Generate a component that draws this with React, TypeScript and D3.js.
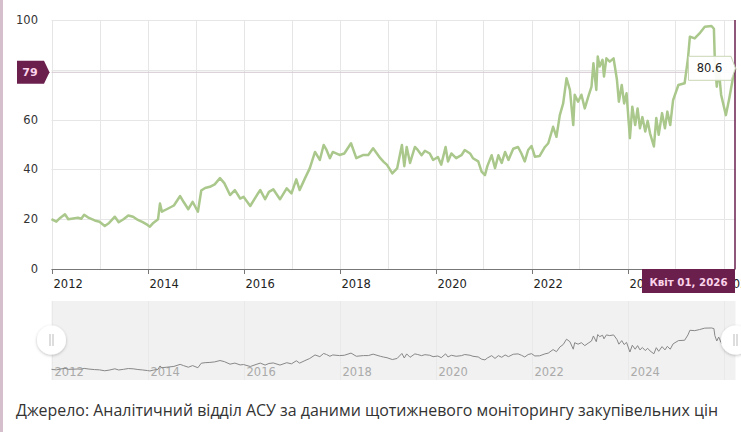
import { useEffect, useRef } from 'react'
import * as d3 from 'd3'

// decimal year of each sample
const dates = [
  2012.0, 2012.05, 2012.1, 2012.18, 2012.28, 2012.35, 2012.45, 2012.55, 2012.62, 2012.68, 2012.78, 2012.9,
  2013.0, 2013.11, 2013.2, 2013.32, 2013.4, 2013.5, 2013.6, 2013.7, 2013.8, 2013.9,
  2014.0, 2014.05, 2014.12, 2014.22, 2014.26, 2014.3, 2014.4, 2014.55, 2014.68, 2014.75, 2014.85, 2014.94,
  2015.05, 2015.12, 2015.2, 2015.3, 2015.4, 2015.51, 2015.6, 2015.72, 2015.82, 2015.93,
  2016.0, 2016.14, 2016.28, 2016.35, 2016.45, 2016.53, 2016.62, 2016.76, 2016.9,
  2017.0, 2017.1, 2017.17, 2017.28, 2017.38, 2017.49, 2017.59, 2017.67, 2017.73, 2017.8, 2017.86,
  2018.0, 2018.1, 2018.24, 2018.35, 2018.5, 2018.6, 2018.7, 2018.85, 2018.92, 2018.99,
  2019.1, 2019.2, 2019.3, 2019.35, 2019.4, 2019.47, 2019.57, 2019.63, 2019.71, 2019.78, 2019.88, 2019.95,
  2020.05, 2020.12, 2020.21, 2020.26, 2020.33, 2020.43, 2020.54, 2020.61, 2020.72, 2020.78, 2020.89, 2020.96,
  2021.03, 2021.08, 2021.17, 2021.24, 2021.31, 2021.38, 2021.45, 2021.52, 2021.62, 2021.72, 2021.79, 2021.86, 2021.93,
  2022.0, 2022.07, 2022.17, 2022.28, 2022.35, 2022.45, 2022.52, 2022.59, 2022.66, 2022.73, 2022.8, 2022.87, 2022.9, 2022.97,
  2023.04, 2023.11, 2023.18, 2023.25, 2023.29, 2023.35, 2023.38, 2023.42, 2023.48, 2023.51, 2023.56, 2023.63, 2023.71, 2023.78, 2023.82, 2023.88, 2023.93, 2023.98,
  2024.05, 2024.1, 2024.16, 2024.21, 2024.26, 2024.31, 2024.37, 2024.42, 2024.47, 2024.55, 2024.6, 2024.65, 2024.72, 2024.78, 2024.83, 2024.89, 2024.95,
  2025.06, 2025.19, 2025.26, 2025.3, 2025.4, 2025.5, 2025.61, 2025.75, 2025.8, 2025.82, 2025.86, 2025.9, 2025.95,
  2026.05, 2026.12, 2026.22, 2026.25,
]

const prices = [
  20, 19.5, 19, 20.5, 22, 20, 20.3, 20.6, 20.2, 21.8, 20.5, 19.5,
  19, 17.3, 18.5, 21, 18.8, 20, 21.5, 21, 19.7, 18.8,
  17.7, 17, 18.5, 20, 26.3, 23, 24, 25.5, 29.3, 27, 24, 27,
  23, 31.5, 32.5, 33, 34, 36.5, 34.5, 29.7, 31.7, 28.3,
  29, 25.3, 29.7, 31.7, 28, 31, 32, 28, 32.4,
  30.4, 36, 31.7, 36.4, 40.4, 47, 43.8, 49.8, 47.8, 44.5, 47,
  45.8, 46.4, 50.5, 44.5, 45.8, 45.8, 48.5, 44.5, 43, 41.8,
  38.4, 40.4, 49.8, 41.3, 49, 42.6, 49, 47.8, 45.7, 47.5, 46.4, 43.8,
  45, 41.9, 49, 43.2, 46.4, 44.5, 45.7, 47.8, 46.4, 44.5, 43.2, 39.1,
  37.7, 41.3, 45.7, 40.5, 45.7, 42.6, 47, 43.8, 48.3, 49, 46.4, 43.2, 47.8,
  49.4, 45.1, 45.4, 49, 50.5, 57.1, 53.1, 61.8, 66.5, 76.6, 71.9, 57.8, 70, 67.2,
  70, 64.5, 69, 73.2, 82.6, 71.9, 85.3, 81.3, 84, 77.3, 84.6, 83.3, 84.6, 76, 67.2, 73.9, 66.5, 70.6,
  52.5, 65.2, 57.8, 64.5, 56.5, 61, 55.2, 59.5, 54.5, 49.2, 60.6, 53.9, 62.6, 56.5, 63.2, 57.8, 67.8,
  73.9, 74.6, 84.6, 93.3, 92.6, 94.6, 97.3, 97.6, 96.5, 83.3, 73.2, 80.6, 70,
  61.8, 68.5, 79.2, 80.6,
]

const yTicks = [0, 20, 40, 60, 80, 100]
const gridYears = d3.range(2012, 2027)
const labelYears = [2012, 2014, 2016, 2018, 2020, 2022, 2024, 2026]
const navLabelYears = [2012, 2014, 2016, 2018, 2020, 2022, 2024]

const hoverValue = 80.6
const crossValue = 79
const crossDate = 'Квіт 01, 2026'
const source = 'Джерело: Аналітичний відділ АСУ за даними щотижневого моніторингу закупівельних цін'

const W = 741
const H = 432
const plot = { left: 51.5, right: 735.5, top: 20, bottom: 269 }
const nav = { top: 301, bottom: 380 }
const purple = '#6a1f4c'

export default function App() {
  const ref = useRef<SVGSVGElement>(null)

  useEffect(() => {
    if (!ref.current) return
    const svg = d3.select(ref.current)
    svg.selectAll('*').remove()

    const points = dates.map((d, i) => ({ d, v: prices[i] }))
    const x = d3.scaleLinear().domain([2012, 2026.25]).range([plot.left, plot.right])
    const y = d3.scaleLinear().domain([0, 100]).range([plot.bottom, plot.top])
    const ny = d3.scaleLinear().domain([0, 100]).range([nav.bottom, 326.7])

    // container border
    svg.append('rect').attr('x', 0).attr('y', 0).attr('width', 3).attr('height', H).attr('fill', '#d6bfcd')

    // grid
    const grid = svg.append('g').attr('stroke', '#e6e6e6').attr('stroke-width', 1)
    grid.selectAll('line.v').data(gridYears).enter().append('line')
      .attr('x1', d => Math.round(x(d)) + 0.5).attr('x2', d => Math.round(x(d)) + 0.5)
      .attr('y1', plot.top).attr('y2', plot.bottom)
    grid.selectAll('line.h').data(yTicks).enter().append('line')
      .attr('x1', plot.left).attr('x2', plot.right)
      .attr('y1', d => Math.round(y(d)) + 0.5).attr('y2', d => Math.round(y(d)) + 0.5)

    // y labels (80 sits under the crosshair label, as in the original)
    svg.append('g').selectAll('text').data(yTicks.filter(d => d !== 80)).enter().append('text')
      .attr('x', 38).attr('y', d => y(d) + 4)
      .attr('text-anchor', 'end')
      .attr('font-family', 'DejaVu Sans, Verdana, sans-serif').attr('font-size', 11.5).attr('fill', '#333')
      .text(d => d)

    // x axis
    svg.append('line').attr('x1', plot.left).attr('x2', plot.right)
      .attr('y1', plot.bottom + 0.5).attr('y2', plot.bottom + 0.5).attr('stroke', '#777')
    svg.append('g').selectAll('line').data(labelYears).enter().append('line')
      .attr('x1', d => Math.round(x(d)) + 0.5).attr('x2', d => Math.round(x(d)) + 0.5)
      .attr('y1', plot.bottom).attr('y2', plot.bottom + 5).attr('stroke', '#777')
    svg.append('g').selectAll('text').data(labelYears).enter().append('text')
      .attr('x', d => x(d) + 2).attr('y', 288)
      .attr('font-family', 'DejaVu Sans, Verdana, sans-serif').attr('font-size', 11.5).attr('fill', '#222')
      .text(d => d)

    // crosshair horizontal
    svg.append('line').attr('x1', plot.left).attr('x2', plot.right)
      .attr('y1', y(crossValue)).attr('y2', y(crossValue)).attr('stroke', '#d4c6d0').attr('stroke-width', 1)

    // series
    const line = d3.line<{ d: number; v: number }>().x(p => x(p.d)).y(p => y(p.v))
    svg.append('path').datum(points).attr('d', line)
      .attr('fill', 'none').attr('stroke', '#aac88b').attr('stroke-width', 2.5)
      .attr('stroke-linejoin', 'round')

    // crosshair vertical
    const last = points[points.length - 1]
    svg.append('line').attr('x1', x(last.d) - 0.5).attr('x2', x(last.d) - 0.5)
      .attr('y1', plot.top).attr('y2', plot.bottom).attr('stroke', purple).attr('stroke-width', 1.5)

    // y crosshair label
    const cy = y(crossValue)
    svg.append('path')
      .attr('d', `M17,${cy - 11.5} H44 L49.5,${cy} L44,${cy + 11.5} H17 Z`)
      .attr('fill', purple)
    svg.append('text').attr('x', 30).attr('y', cy + 4).attr('text-anchor', 'middle')
      .attr('font-family', 'DejaVu Sans, Verdana, sans-serif').attr('font-size', 11).attr('font-weight', 'bold')
      .attr('fill', '#fbd3ea').text(crossValue)

    // x crosshair label
    svg.append('rect').attr('x', 642).attr('y', plot.bottom).attr('width', 93).attr('height', 24).attr('fill', purple)
    svg.append('text').attr('x', 688.5).attr('y', 286).attr('text-anchor', 'middle')
      .attr('font-family', 'DejaVu Sans, Verdana, sans-serif').attr('font-size', 11).attr('font-weight', 'bold')
      .attr('fill', '#fbd3ea').attr('textLength', 78).attr('lengthAdjust', 'spacingAndGlyphs').text(crossDate)

    // tooltip
    const tx = x(last.d)
    const ty = y(hoverValue)
    svg.append('path')
      .attr('d', `M688.5,${ty - 12} H731 L${tx},${ty} L731,${ty + 12} H688.5 Z`)
      .attr('fill', 'rgba(255,255,255,0.92)').attr('stroke', '#c8d6b4').attr('stroke-width', 1)
    svg.append('text').attr('x', 709.5).attr('y', ty + 4).attr('text-anchor', 'middle')
      .attr('font-family', 'DejaVu Sans, Verdana, sans-serif').attr('font-size', 11.5).attr('fill', '#222')
      .text(hoverValue)

    // navigator
    svg.append('rect').attr('x', plot.left).attr('y', nav.top)
      .attr('width', plot.right - plot.left).attr('height', nav.bottom - nav.top).attr('fill', '#f1f1f1')
    svg.append('g').selectAll('line').data(gridYears.filter(d => d % 2 === 0)).enter().append('line')
      .attr('x1', d => Math.round(x(d)) + 0.5).attr('x2', d => Math.round(x(d)) + 0.5)
      .attr('y1', nav.top).attr('y2', nav.bottom).attr('stroke', '#e9e9e9')
    svg.append('g').selectAll('text').data(navLabelYears).enter().append('text')
      .attr('x', d => x(d) + 3).attr('y', 376)
      .attr('font-family', 'DejaVu Sans, Verdana, sans-serif').attr('font-size', 11.5).attr('fill', '#aaa')
      .text(d => d)
    const navLine = d3.line<{ d: number; v: number }>().x(p => x(p.d)).y(p => ny(p.v))
    svg.append('path').datum(points).attr('d', navLine)
      .attr('fill', 'none').attr('stroke', '#888').attr('stroke-width', 1)

    // handles
    const defs = svg.append('defs')
    const f = defs.append('filter').attr('id', 'hs').attr('x', '-50%').attr('y', '-50%').attr('width', '200%').attr('height', '200%')
    f.append('feDropShadow').attr('dx', 0).attr('dy', 1).attr('stdDeviation', 1.5).attr('flood-color', '#000').attr('flood-opacity', 0.25)
    ;[plot.left, plot.right].forEach(hx => {
      const g = svg.append('g')
      g.append('circle').attr('cx', hx).attr('cy', 340).attr('r', 14.5).attr('fill', '#fff').attr('filter', 'url(#hs)')
      g.append('line').attr('x1', hx - 1.5).attr('x2', hx - 1.5).attr('y1', 334).attr('y2', 346).attr('stroke', '#bbb')
      g.append('line').attr('x1', hx + 1.5).attr('x2', hx + 1.5).attr('y1', 334).attr('y2', 346).attr('stroke', '#bbb')
    })

    // source
    svg.append('text').attr('x', 16).attr('y', 416)
      .attr('font-family', 'Open Sans, sans-serif').attr('font-size', 15.5).attr('fill', '#333')
      .attr('textLength', 702).attr('lengthAdjust', 'spacingAndGlyphs')
      .text(source)
  }, [])

  return (
    <svg ref={ref} width={W} height={H}
      style={{ position: 'absolute', left: 0, top: 0, background: '#fff' }} />
  )
}
